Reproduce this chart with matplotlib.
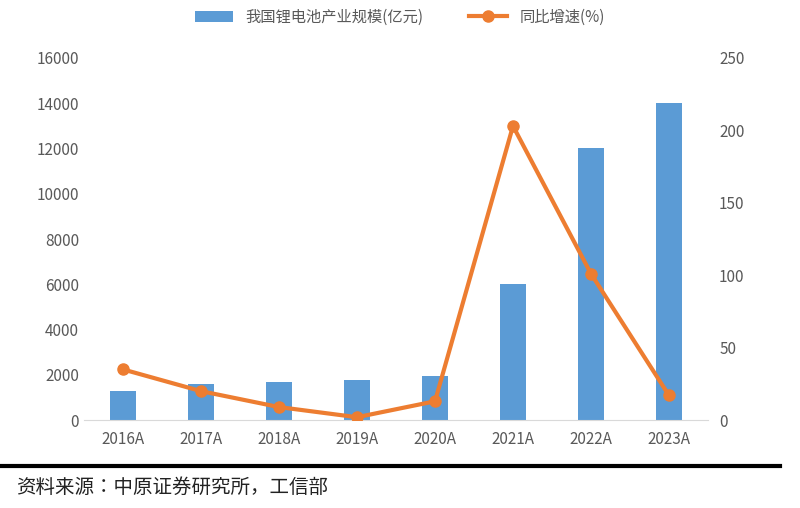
import matplotlib
matplotlib.use("Agg")
import matplotlib.pyplot as plt
from matplotlib import font_manager as fm

years = ["2016A","2017A","2018A","2019A","2020A","2021A","2022A","2023A"]
scale = [1300, 1600, 1700, 1750, 1950, 6000, 12000, 14000]
growth = [35, 20, 9, 2, 13, 203, 101, 17]

names = []
for f in fm.findSystemFonts():
    if "cjk" in f.lower():
        try:
            fm.fontManager.addfont(f)
            names.append(fm.FontProperties(fname=f).get_name())
        except Exception:
            pass
pref = [n for n in names if "Sans" in n and "SC" in n] + [n for n in names if "Sans" in n]
plt.rcParams["font.family"] = "sans-serif"
plt.rcParams["font.sans-serif"] = pref + ["DejaVu Sans"]

fig = plt.figure(figsize=(8, 5.08), dpi=100)
ax = fig.add_axes([0.105, 0.173, 0.78, 0.713])
ax2 = ax.twinx()
x = range(len(years))
b = ax.bar(x, scale, width=0.33, color="#5B9BD5", label="我国锂电池产业规模(亿元)", zorder=2)
l, = ax2.plot(x, growth, color="#ED7D31", lw=3, marker="o", ms=8, label="同比增速(%)", zorder=3)
ax.set_ylim(0, 16000); ax.set_yticks(range(0, 16001, 2000))
ax2.set_ylim(0, 250); ax2.set_yticks(range(0, 251, 50))
ax.set_xlim(-0.5, 7.5)
ax.set_xticks(list(x)); ax.set_xticklabels(years)
for a in (ax, ax2):
    for s in a.spines.values(): s.set_visible(False)
    a.tick_params(length=0, labelsize=11, colors="#595959")
ax.spines["bottom"].set_visible(True); ax.spines["bottom"].set_color("#D9D9D9")
ax.tick_params(axis="x", pad=8)
ax2.tick_params(axis="y", pad=8)
fig.legend(handles=[b, l], loc="upper center", bbox_to_anchor=(0.5, 1.01), ncol=2, frameon=False,
           fontsize=11, labelcolor="#595959", handlelength=2.5, columnspacing=3)
fig.add_artist(plt.Line2D([0.0, 0.975], [0.083, 0.083], color="black", lw=3))
fig.text(0.02, 0.03, "资料来源：中原证券研究所，工信部", fontsize=14, color="#222222")
fig.savefig("out.png", dpi=100)
